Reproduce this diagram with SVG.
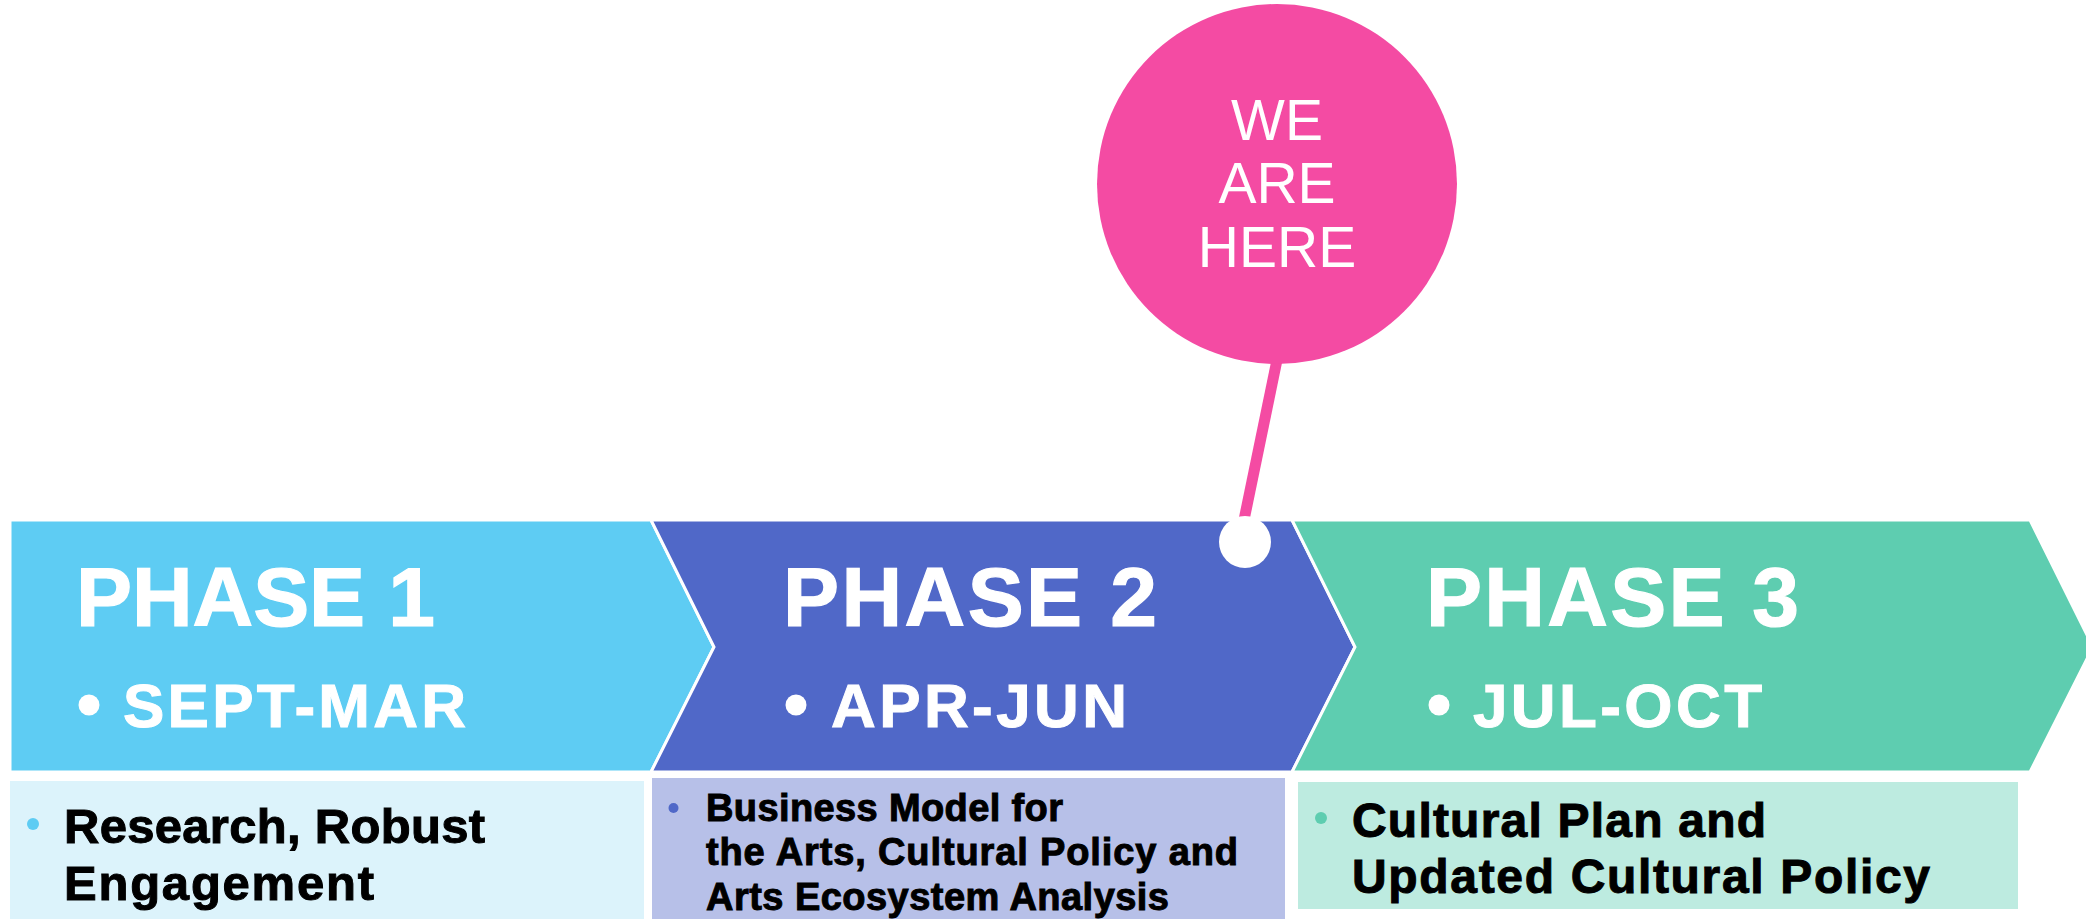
<svg xmlns="http://www.w3.org/2000/svg" width="2086" height="919" viewBox="0 0 2086 919">
  <style>
    .chev { stroke: #ffffff; stroke-width: 3; stroke-linejoin: miter; }
    .phase { font-family: "Liberation Sans", Arial, sans-serif; font-weight: bold; font-size: 84px; fill: #ffffff; stroke: #ffffff; stroke-width: 1.2px; }
    .dates { font-family: "Liberation Sans", Arial, sans-serif; font-weight: bold; font-size: 62px; fill: #ffffff; stroke: #ffffff; stroke-width: 1px; }
    .desc { font-family: "Liberation Sans", Arial, sans-serif; font-weight: bold; fill: #000000; stroke: #000000; stroke-width: 1px; }
    .marker-text { font-family: "Liberation Sans", Arial, sans-serif; font-size: 57px; fill: #ffffff; }
  </style>

  <rect width="2086" height="919" fill="#ffffff"/>

  <!-- Phase 1 -->
  <g id="phase1">
    <polygon class="chev" fill="#5ECCF3" points="10,520 651,520 714,647 651,772 10,772"/>
    <text class="phase" x="76" y="626" textLength="359" lengthAdjust="spacing">PHASE 1</text>
    <circle cx="89" cy="705" r="10.5" fill="#ffffff"/>
    <text class="dates" x="123" y="727" textLength="343" lengthAdjust="spacing">SEPT-MAR</text>
  </g>

  <!-- Phase 2 -->
  <g id="phase2">
    <polygon class="chev" fill="#5068C8" points="651,520 1292,520 1355,647 1292,772 651,772 714,647"/>
    <text class="phase" x="783" y="626" textLength="374" lengthAdjust="spacing">PHASE 2</text>
    <circle cx="796" cy="705" r="10.5" fill="#ffffff"/>
    <text class="dates" x="831" y="727" textLength="296" lengthAdjust="spacing">APR-JUN</text>
  </g>

  <!-- Phase 3 -->
  <g id="phase3">
    <polygon class="chev" fill="#5ECDB0" points="1292,520 2030,520 2093,647 2030,772 1292,772 1355,647"/>
    <text class="phase" x="1426" y="626" textLength="373" lengthAdjust="spacing">PHASE 3</text>
    <circle cx="1439" cy="705" r="10.5" fill="#ffffff"/>
    <text class="dates" x="1473" y="727" textLength="289" lengthAdjust="spacing">JUL-OCT</text>
  </g>

  <!-- Deliverables -->
  <g id="deliverable1">
    <rect x="10" y="781" width="634" height="140" fill="#DCF3FB"/>
    <circle cx="33" cy="824" r="6" fill="#5ECCF3"/>
    <text class="desc" font-size="49" x="64" y="843" textLength="421" lengthAdjust="spacing">Research, Robust</text>
    <text class="desc" font-size="49" x="64" y="900" textLength="310" lengthAdjust="spacing">Engagement</text>
  </g>

  <g id="deliverable2">
    <rect x="652" y="778" width="633" height="143" fill="#B7C0E8"/>
    <circle cx="673.5" cy="808" r="5" fill="#5068C8"/>
    <text class="desc" font-size="38" x="706" y="821" textLength="357" lengthAdjust="spacing">Business Model for</text>
    <text class="desc" font-size="38" x="706" y="865" textLength="532" lengthAdjust="spacing">the Arts, Cultural Policy and</text>
    <text class="desc" font-size="38" x="706" y="910" textLength="463" lengthAdjust="spacing">Arts Ecosystem Analysis</text>
  </g>

  <g id="deliverable3">
    <rect x="1298" y="782" width="720" height="127" fill="#BDEBE0"/>
    <circle cx="1321" cy="818" r="6" fill="#5ECDB0"/>
    <text class="desc" font-size="48" x="1352" y="837" textLength="414" lengthAdjust="spacing">Cultural Plan and</text>
    <text class="desc" font-size="48" x="1352" y="893" textLength="578" lengthAdjust="spacing">Updated Cultural Policy</text>
  </g>

  <!-- Pointer from the marker bubble down to the timeline -->
  <g id="connectors">
    <line x1="1277" y1="360" x2="1244" y2="520" stroke="#F44BA3" stroke-width="11"/>
  </g>

  <g id="position-dot">
    <circle cx="1245" cy="542" r="26" fill="#ffffff"/>
  </g>

  <g id="marker">
    <circle cx="1277" cy="184" r="180" fill="#F44BA3"/>
    <text class="marker-text" text-anchor="middle" x="1277" y="140">WE</text>
    <text class="marker-text" text-anchor="middle" x="1277" y="203">ARE</text>
    <text class="marker-text" text-anchor="middle" x="1277" y="267">HERE</text>
  </g>
</svg>
